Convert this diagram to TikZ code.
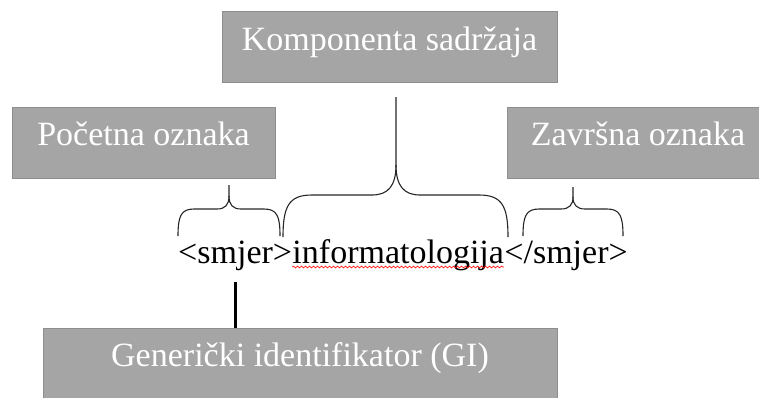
\documentclass[tikz,border=0pt]{standalone}
\usepackage{fontspec}
\setmainfont{Liberation Serif}
\usepackage{tikz}
\usetikzlibrary{positioning,decorations.pathmorphing}
\definecolor{boxgray}{HTML}{A5A5A5}
\definecolor{boxedge}{HTML}{8E8E8E}
\tikzstyle{part} = [draw=boxedge, fill=boxgray, text=white, line width=0.8pt,
  minimum height=71pt, text height=0.84em, text depth=0.22em, inner sep=0pt]
\tikzstyle{tagtext} = [inner sep=0pt, anchor=base west]
\tikzstyle{brace} = [draw=black!85, line width=1.1pt]

\begin{document}
\begin{tikzpicture}[x=1pt, y=-1pt, font=\fontsize{34}{40}\selectfont]
		\useasboundingbox (0,0) rectangle (759,397);
		%\draw[help lines] (0,0) grid (759,397);
		\node[part, minimum width=335pt] (content box) at (389.5,47) {Komponenta sadržaja};
		\node[part, minimum width=263pt] (start box) at (143.5,142.5) {Početna oznaka};
		\node[part, minimum width=262pt] (end box) at (638,142.5) {Završna oznaka};
		\node[part, minimum width=514pt] (gi box) at (300,363.5) {Generički identifikator (GI)};
		% the element
		\node[tagtext] (stag) at (178,263) {<smjer>};
		\node[tagtext] (content) at (stag.base east) {informatologija};
		\node[tagtext] (etag) at (content.base east) {</smjer>};
		\draw[red, line width=0.6pt, decorate, decoration={snake, amplitude=0.9pt, segment length=4pt}]
			([yshift=-4pt]content.base west) -- ([yshift=-4pt]content.base east);
		% braces
		\draw[brace] (178,236) .. controls (178,216) and (181,209) .. (194,209) -- (217,209)
			.. controls (225,209) and (229,205) .. (229,196) -- (229,185);
		\draw[brace] (229,196) .. controls (229,205) and (233,209) .. (241,209) -- (264,209)
			.. controls (277,209) and (280,216) .. (280,236);
		\draw[brace] (283,237) .. controls (283,206) and (289,195) .. (312,195) -- (372,195)
			.. controls (388,195) and (396,186) .. (396,165) -- (396,97);
		\draw[brace] (396,165) .. controls (396,186) and (404,195) .. (420,195) -- (479,195)
			.. controls (502,195) and (508,206) .. (508,237);
		\draw[brace] (523,236) .. controls (523,216) and (526,209) .. (539,209) -- (561,209)
			.. controls (569,209) and (573,205) .. (573,197) -- (573,187);
		\draw[brace] (573,197) .. controls (573,205) and (577,209) .. (585,209) -- (607,209)
			.. controls (620,209) and (623,216) .. (623,236);
		\draw[line width=3pt] ([yshift=-12pt]stag.south) -- (gi box.north -| stag.south);
\end{tikzpicture}
\end{document}
